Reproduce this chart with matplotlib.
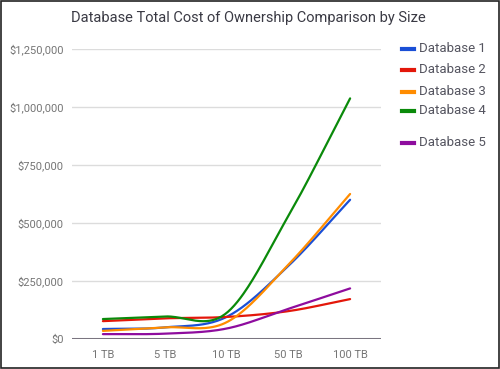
import numpy as np
import matplotlib
matplotlib.use("Agg")
import matplotlib.pyplot as plt
from matplotlib.lines import Line2D
from matplotlib.patches import Rectangle

plt.rcParams['font.family'] = ['Roboto', 'DejaVu Sans']

# data
sizes = ["1 TB", "5 TB", "10 TB", "50 TB", "100 TB"]
db1 = [43000, 50000, 95000, 315000, 600000]
db2 = [77000, 89000, 95000, 120000, 172000]
db3 = [35000, 50000, 72000, 320000, 625000]
db4 = [86000, 97000, 112000, 530000, 1037000]
db5 = [21000, 23000, 45000, 130000, 218000]
names = ["Database 1", "Database 2", "Database 3", "Database 4", "Database 5"]
colors = ["#1a4fd6", "#e3170a", "#ff8c00", "#0a8a0a", "#8e0c9e"]
yticks = [0, 250000, 500000, 750000, 1000000, 1250000]


def smooth(y, n=40):
    # catmull-rom style curve through the points, like a "function" curve
    y = np.asarray(y, dtype=float)
    m = np.zeros_like(y)
    m[1:-1] = (y[2:] - y[:-2]) / 2
    m[0] = y[1] - y[0]
    m[-1] = y[-1] - y[-2]
    xs, ys = [], []
    for i in range(len(y) - 1):
        t = np.linspace(0, 1, n, endpoint=(i == len(y) - 2))
        h00 = 2 * t**3 - 3 * t**2 + 1
        h10 = t**3 - 2 * t**2 + t
        h01 = -2 * t**3 + 3 * t**2
        h11 = t**3 - t**2
        xs.append(i + t)
        ys.append(h00 * y[i] + h10 * m[i] + h01 * y[i + 1] + h11 * m[i + 1])
    return np.concatenate(xs), np.concatenate(ys)


fig = plt.figure(figsize=(5, 3.69), dpi=100)
ax = fig.add_axes([0.144, 0.0813, 0.618, 0.786])

for vals, c in zip([db1, db2, db3, db4, db5], colors):
    sx, sy = smooth(vals)
    ax.plot(sx, sy, color=c, linewidth=1.6, solid_capstyle='round', zorder=3)

ax.set_xlim(-0.5, len(sizes) - 0.5)
ax.set_ylim(0, 1250000)
ax.set_xticks(range(len(sizes)))
ax.set_xticklabels(sizes)
ax.set_yticks(yticks)
ax.set_yticklabels(["${:,.0f}".format(v) for v in yticks])
ax.tick_params(length=0, labelsize=8, colors="#757575", pad=6)
ax.tick_params(axis='x', pad=8)
for s in ax.spines.values():
    s.set_visible(False)
ax.grid(axis='y', color="#dcdcdc", linewidth=1)
ax.axhline(0, color="#7a7580", linewidth=2.2, zorder=2)

fig.text(0.497, 0.952, "Database Total Cost of Ownership Comparison by Size",
         ha='center', va='center', fontsize=10.5, color="#3a3a44")

# legend, drawn by hand to keep the uneven spacing
leg_y = [49, 69.5, 91.5, 111, 143]
for name, c, py in zip(names, colors, leg_y):
    yf = 1 - py / 369
    fig.add_artist(Line2D([402 / 500, 414 / 500], [yf, yf], color=c, linewidth=3))
    fig.text(419 / 500, yf, name, ha='left', va='center', fontsize=9.5, color="#555560")

fig.add_artist(Rectangle((0.001, 0.0015), 0.997, 0.996, transform=fig.transFigure,
                         fill=False, edgecolor="#222222", linewidth=1.2))

fig.savefig("out.png", dpi=100)
